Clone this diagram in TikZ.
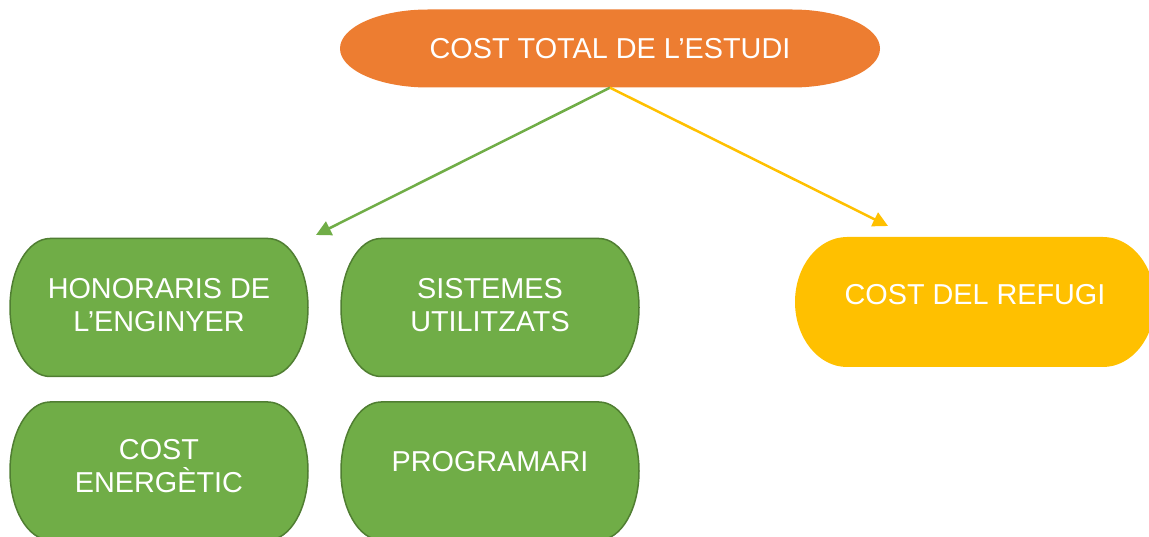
\documentclass[tikz,border=0pt]{standalone}
\usepackage{fontspec}
\setmainfont{Liberation Sans}
\usetikzlibrary{arrows.meta}
\definecolor{orangefill}{HTML}{ED7D31}
\definecolor{greenfill}{HTML}{70AD47}
\definecolor{greenline}{HTML}{507E32}
\definecolor{yellowfill}{HTML}{FFC000}
\tikzset{
  boxtext/.style={text=white,font=\fontsize{28.8}{32.5}\selectfont,align=center,inner sep=0pt},
  costarrow/.style={-{Triangle[length=15pt,width=15pt]},line width=2.5pt}
}

\begin{document}
\begin{tikzpicture}[x=1pt,y=1pt]
\useasboundingbox (0,0) rectangle (1149,536);

% top oval
\fill[orangefill] (428,526.5) -- (792,526.5) arc[start angle=90,end angle=-90,x radius=88,y radius=39]
  -- (428,448.5) arc[start angle=270,end angle=90,x radius=88,y radius=39] -- cycle;

% green boxes
\foreach \cx/\cy in {159/228.5,490/228.5,159/65,490/65}{
  \filldraw[fill=greenfill,draw=greenline,line width=1.5pt] (\cx-109,\cy+69) -- (\cx+109,\cy+69)
    arc[start angle=90,end angle=-90,x radius=40,y radius=69]
    -- (\cx-109,\cy-69) arc[start angle=270,end angle=90,x radius=40,y radius=69] -- cycle;
};

% yellow box
\fill[yellowfill] (847,299) -- (1103,299) arc[start angle=90,end angle=-90,x radius=52,y radius=65]
  -- (847,169) arc[start angle=270,end angle=90,x radius=52,y radius=65] -- cycle;

\node[boxtext,minimum width=540pt,minimum height=78pt] (total) at (610,487.5) {COST TOTAL DE L’ESTUDI};
\node[boxtext] (honoraris) at (159,231) {HONORARIS DE\\L’ENGINYER};
\node[boxtext] (sistemes) at (490,231) {SISTEMES\\UTILITZATS};
\node[boxtext] (energetic) at (159,70) {COST\\ENERGÈTIC};
\node[boxtext] (programari) at (490,74) {PROGRAMARI};
\node[boxtext] (refugi) at (975,241) {COST DEL REFUGI};

\coordinate (greentip) at (316,301);
\coordinate (yellowtip) at (888,310);
\draw[costarrow,greenfill] (total.south) -- (greentip);
\draw[costarrow,yellowfill] (total.south) -- (yellowtip);

\end{tikzpicture}
\end{document}
